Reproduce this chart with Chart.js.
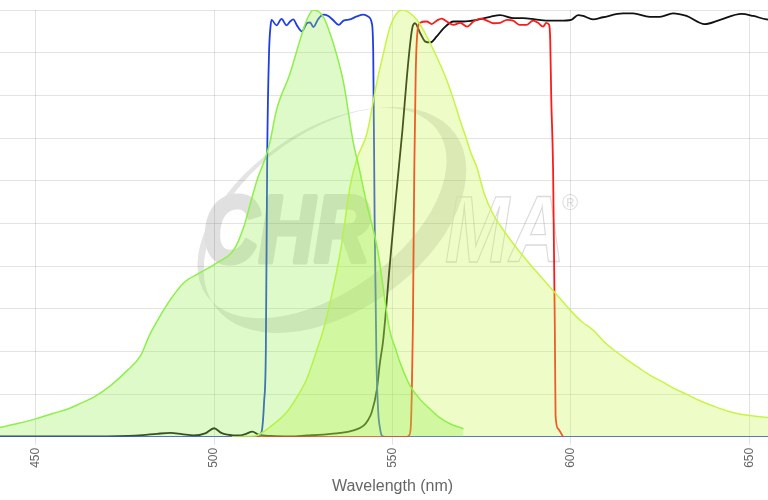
<!DOCTYPE html>
<html>
<head>
<meta charset="utf-8">
<script src="https://cdn.jsdelivr.net/npm/chart.js@4.4.1/dist/chart.umd.min.js"></script>
<style>
html, body { margin: 0; padding: 0; background: #fff; overflow: hidden; }
canvas { display: block; }
</style>
</head>
<body>
<canvas id="spectra" width="785" height="500"></canvas>
<script>
// wavelength ticks shown on the axis
const xTicks = [450, 500, 550, 600, 650];

// excitation spectrum (green)
const exWl  = [440, 445, 450, 455, 459, 463, 466.3, 471, 475.6, 479.4, 482, 485, 487.8, 491.5, 496.2, 500.9, 505.6, 508.4, 510.2, 512.1, 514, 515.5, 517.5, 521.3, 524.1, 526, 527.8, 530.6, 533.4, 536.3, 539, 540.5, 542.5, 545.8, 549.2, 550.9, 552.1, 554.9, 557.5, 560.5, 563, 566.2, 569.9];
const exVal = [2.2, 3.1, 4.2, 5.5, 6.5, 8.0, 9.3, 12, 15.5, 19, 24, 28.5, 32.2, 36.1, 38.5, 40.8, 43.9, 49.4, 54.8, 60.3, 64.5, 68.5, 76.6, 85.2, 93, 97.7, 100, 98.4, 92.2, 82.9, 69, 63.5, 55.6, 43.9, 25, 20.5, 17.4, 12, 9, 6.5, 4.6, 3, 1.9];

// emission spectrum (yellow-green)
const emWl  = [505, 510, 512, 516, 520.4, 523, 526, 528.9, 530.6, 532.7, 535.5, 538.3, 540.2, 542.8, 545.6, 547.5, 549.3, 551, 552.6, 554.5, 556.8, 559.5, 562.4, 565, 567.1, 569, 570.8, 572, 573.7, 575.7, 578, 581, 585, 590, 595.3, 600, 603, 606.5, 609, 611.8, 615, 619.3, 622, 625.8, 629, 632.3, 636, 639.9, 644, 649.1, 653, 656, 660];
const emVal = [0, 0.1, 0.3, 2.5, 5.8, 9, 13.6, 20.6, 25, 32.2, 43.9, 59.5, 65.5, 71, 83, 90, 96, 99, 100, 99.5, 97.7, 94, 89, 84, 79, 74, 69.6, 66.5, 63, 57, 52.5, 48.5, 44, 39, 34, 29.5, 27, 24.8, 22.5, 20.5, 18.5, 16, 14.5, 12.8, 11.3, 10, 8.5, 7.2, 6, 5.1, 4.7, 4.4, 4.0];

// excitation filter (blue)
const bpWl  = [440, 512.5, 513, 513.5, 514, 514.5, 514.9, 515.4, 515.8, 516.1, 517.5, 518.9, 520.3, 521.3, 522.2, 523.2, 524.6, 526, 526.9, 527.8, 529.2, 530.6, 532, 533.4, 534.9, 536.3, 538.1, 540, 541.9, 543.3, 544.2, 544.6, 545, 545.5, 546, 546.5, 547, 548, 660];
const bpVal = [0, 0, 0.5, 2, 8, 20, 67, 90, 96, 97.7, 96.4, 97.9, 96.4, 97.3, 97.8, 96.4, 95.0, 96.9, 97.1, 96.0, 97.9, 98.9, 98.6, 97.6, 96.5, 97.5, 97.8, 98.5, 98.9, 98.4, 96.9, 90, 50, 18, 5.8, 2, 0.3, 0, 0];

// emission filter (red)
const rpWl  = [512, 554, 554.6, 555.1, 555.4, 555.7, 556.1, 556.5, 556.9, 557.7, 559.6, 561, 562.4, 563.8, 565.2, 567.1, 569, 570.9, 572.7, 574.6, 576.5, 578.3, 580.2, 582.1, 583.8, 585.6, 587.5, 589.4, 590.8, 592.2, 593.1, 593.9, 594.2, 594.5, 595, 595.5, 595.7, 596.4, 597.8];
const rpVal = [0, 0, 0.3, 2, 10, 25, 62, 85, 94, 97, 97.3, 96.7, 97.5, 98, 97.3, 96.5, 97, 96.1, 97.3, 98, 97.5, 96.9, 97, 97.7, 97.5, 96.5, 96.5, 97.5, 97, 96.1, 97, 96.5, 93, 79, 63, 25, 5, 1.9, 0];

// dichroic mirror (black)
const dcWl  = [440, 450, 460, 470, 476, 480, 484, 487.8, 491, 494.3, 497.5, 500, 502, 503.7, 507.4, 509, 510.7, 512.5, 516, 521.3, 526, 530.6, 535.3, 539.1, 541.9, 543.2, 544.2, 545.6, 546.5, 547.3, 548, 549.1, 550.9, 552.8, 554, 555, 555.6, 556.3, 557.8, 559.2, 560.6, 562.4, 564.3, 567.1, 569.9, 573.7, 577.4, 580.2, 583.8, 586.6, 590, 593.1, 596.9, 600.1, 602, 603.4, 606.2, 609, 614.6, 617.4, 622.1, 624.9, 628.6, 632.4, 637.5, 641.8, 647.8, 651.1, 654.8, 660];
const dcVal = [0.1, 0.1, 0.1, 0.1, 0.2, 0.4, 0.7, 0.9, 0.6, 0.3, 0.8, 2, 0.9, 0.5, 0.3, 0.7, 1.2, 0.5, 0.2, 0.1, 0.3, 0.5, 0.9, 1.5, 2.6, 4, 5.8, 11, 17.5, 22, 28, 39, 55.6, 72, 84, 92.5, 96, 96.9, 94.5, 92.6, 92.4, 93.8, 95.7, 97.3, 97.3, 97.7, 98.4, 98.8, 98.1, 98.1, 97.8, 97.5, 97.5, 97.7, 98.8, 98.6, 97.8, 98.3, 99.2, 99.2, 98.4, 98.4, 99.2, 98.6, 96.7, 97.7, 99.1, 98.6, 97.8, 97.5];

function pts(xs, ys) {
    return xs.map((x, i) => ({ x: x, y: ys[i] }));
}

// faint CHROMA logo behind the curves
const watermark = {
    id: 'watermark',
    beforeDatasetsDraw(chart) {
        const ctx = chart.ctx;
        ctx.save();
        ctx.globalCompositeOperation = 'darken';
        const outer = new Path2D();
        outer.ellipse(335, 220, 148, 90, -0.62, 0, Math.PI * 2);
        const inner = new Path2D();
        inner.ellipse(322, 213, 142, 80, -0.62, 0, Math.PI * 2);
        outer.addPath(inner);
        ctx.fillStyle = '#e4e4e4';
        ctx.fill(outer, 'evenodd');

        ctx.font = 'italic bold 94px "Liberation Sans", Arial, sans-serif';
        ctx.save();
        ctx.translate(203, 262);
        ctx.scale(0.82, 1);
        ctx.fillStyle = '#e0e0e0';
        ctx.strokeStyle = '#e0e0e0';
        ctx.lineWidth = 5;
        ctx.lineJoin = 'round';
        ctx.fillText('CHR', 0, 0);
        ctx.strokeText('CHR', 0, 0);
        ctx.restore();

        ctx.save();
        ctx.translate(445, 262);
        ctx.scale(0.82, 1);
        ctx.strokeStyle = '#dadada';
        ctx.lineWidth = 1.3;
        ctx.strokeText('MA', 0, 0);
        ctx.restore();

        ctx.font = '22px "Liberation Sans", Arial, sans-serif';
        ctx.fillStyle = '#e0e0e0';
        ctx.fillText('\u00AE', 562, 210);
        ctx.restore();
    }
};

const ctx = document.getElementById('spectra').getContext('2d');
new Chart(ctx, {
    type: 'line',
    data: {
        datasets: [
            {
                label: 'Excitation',
                data: pts(exWl, exVal),
                borderColor: '#8ef04a',
                backgroundColor: 'rgba(142,240,74,0.3)',
                borderWidth: 1.5,
                fill: 'origin'
            },
            {
                label: 'Emission',
                data: pts(emWl, emVal),
                borderColor: '#c8f545',
                backgroundColor: 'rgba(200,245,70,0.3)',
                borderWidth: 1.5,
                fill: 'origin'
            },
            {
                label: 'Emission filter',
                data: pts(rpWl, rpVal),
                borderColor: '#ff1a1a',
                borderWidth: 1.8,
                fill: false
            },
            {
                label: 'Excitation filter',
                data: pts(bpWl, bpVal),
                borderColor: '#1f3fe0',
                borderWidth: 1.8,
                fill: false
            },
            {
                label: 'Dichroic',
                data: pts(dcWl, dcVal),
                borderColor: '#111111',
                borderWidth: 1.8,
                fill: false
            }
        ]
    },
    options: {
        responsive: false,
        animation: false,
        events: [],
        layout: { padding: { top: 10, bottom: 4, left: 0, right: 0 } },
        elements: {
            point: { radius: 0 },
            line: { cubicInterpolationMode: 'monotone' }
        },
        plugins: {
            legend: { display: false },
            tooltip: { enabled: false }
        },
        scales: {
            x: {
                type: 'linear',
                min: 440,
                max: 660,
                afterBuildTicks: axis => { axis.ticks = xTicks.map(v => ({ value: v })); },
                grid: { color: 'rgba(0,0,0,0.11)' },
                border: { color: 'rgba(0,0,0,0.11)' },
                ticks: {
                    color: '#666',
                    font: { size: 12 },
                    minRotation: 90,
                    maxRotation: 90,
                    autoSkip: false
                },
                title: {
                    display: true,
                    text: 'Wavelength (nm)',
                    color: '#666',
                    font: { size: 16 },
                    padding: { top: 6, bottom: 0 }
                }
            },
            y: {
                min: 0,
                max: 100,
                ticks: { display: false, stepSize: 10 },
                grid: { color: 'rgba(0,0,0,0.11)', drawTicks: false },
                border: { display: false }
            }
        }
    },
    plugins: [watermark]
});
</script>
</body>
</html>
